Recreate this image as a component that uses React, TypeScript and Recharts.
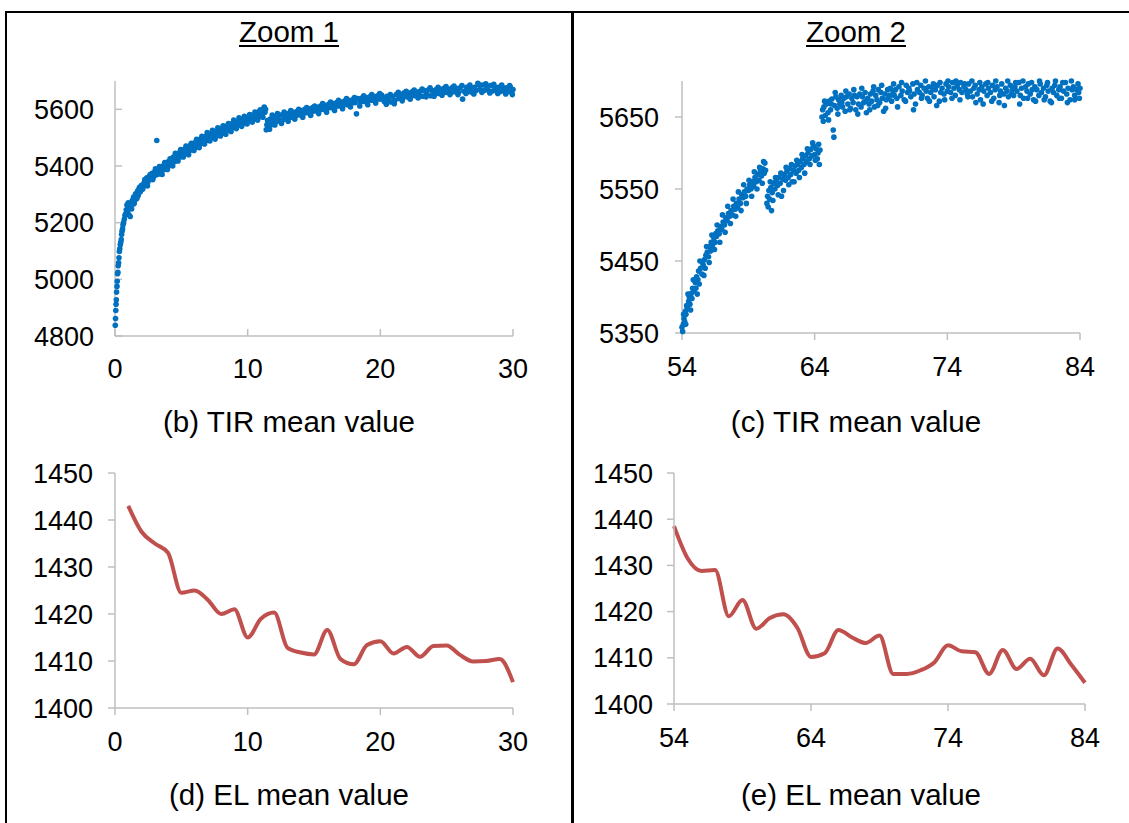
import React from 'react';
import { ScatterChart, Scatter, LineChart, Line, XAxis, YAxis } from 'recharts';

// TIR mean value, zoom 1 (x, value)
const tirZoom1: [number, number][] = [
  [0.02, 4838], [0.04, 4862], [0.06, 4890], [0.08, 4912], [0.1, 4928], [0.12, 4955], [0.15, 4975],
  [0.17, 4993], [0.19, 5020], [0.22, 5025], [0.24, 5048], [0.27, 5058], [0.3, 5076], [0.33, 5098],
  [0.36, 5108], [0.4, 5122], [0.43, 5130], [0.47, 5140], [0.5, 5158], [0.53, 5170], [0.57, 5178],
  [0.6, 5192], [0.65, 5200], [0.7, 5212], [0.75, 5225], [0.8, 5230], [0.85, 5245], [0.9, 5262],
  [0.95, 5238], [1.0, 5270], [1.05, 5228], [1.1, 5255], [1.15, 5222], [1.2, 5262], [1.25, 5248],
  [1.3, 5278], [1.35, 5265], [1.4, 5290], [1.5, 5280], [1.55, 5302], [1.6, 5290], [1.7, 5312],
  [1.75, 5296], [1.8, 5318], [1.9, 5308], [2.0, 5332], [2.1, 5320], [2.2, 5342], [2.3, 5332],
  [2.4, 5358], [2.5, 5345], [2.6, 5364], [2.7, 5354], [2.8, 5374], [2.9, 5362], [3.0, 5380],
  [3.1, 5368], [3.15, 5490], [3.2, 5384], [3.3, 5372], [3.4, 5392], [3.5, 5380], [3.6, 5400],
  [3.7, 5388], [3.8, 5408], [3.9, 5394], [4.0, 5415], [4.1, 5402], [4.2, 5424], [4.3, 5410],
  [4.4, 5432], [4.5, 5416], [4.6, 5440], [4.7, 5426], [4.8, 5446], [4.9, 5432], [5.0, 5452],
  [5.1, 5438], [5.2, 5458], [5.3, 5444], [5.4, 5464], [5.5, 5450], [5.6, 5470], [5.7, 5456],
  [5.8, 5476], [5.9, 5462], [6.0, 5482], [6.1, 5466], [6.2, 5488], [6.3, 5474], [6.4, 5494],
  [6.5, 5480], [6.6, 5498], [6.7, 5484], [6.8, 5504], [6.9, 5490], [7.0, 5510], [7.1, 5494],
  [7.2, 5514], [7.3, 5500], [7.4, 5518], [7.5, 5504], [7.6, 5522], [7.7, 5508], [7.8, 5526],
  [7.9, 5512], [8.0, 5532], [8.1, 5516], [8.2, 5534], [8.3, 5520], [8.4, 5540], [8.5, 5526],
  [8.6, 5544], [8.7, 5530], [8.8, 5549], [8.9, 5536], [9.0, 5554], [9.1, 5540], [9.2, 5558],
  [9.3, 5544], [9.4, 5562], [9.5, 5548], [9.6, 5566], [9.7, 5552], [9.8, 5568], [9.9, 5556],
  [10.0, 5572], [10.1, 5558], [10.2, 5576], [10.3, 5562], [10.4, 5580], [10.5, 5566], [10.6, 5584],
  [10.7, 5570], [10.8, 5590], [10.9, 5574], [11.0, 5594], [11.1, 5580], [11.2, 5602], [11.25, 5608],
  [11.3, 5590], [11.4, 5528], [11.45, 5545], [11.5, 5560], [11.55, 5536], [11.6, 5552], [11.7, 5566],
  [11.8, 5546], [11.9, 5570], [12.0, 5554], [12.1, 5574], [12.2, 5558], [12.3, 5576], [12.4, 5560],
  [12.5, 5580], [12.7, 5564], [12.8, 5582], [13.0, 5568], [13.1, 5586], [13.3, 5572], [13.4, 5590],
  [13.6, 5576], [13.7, 5592], [13.9, 5580], [14.0, 5596], [14.2, 5584], [14.3, 5600], [14.5, 5588],
  [14.6, 5602], [14.8, 5590], [14.9, 5606], [15.1, 5594], [15.2, 5608], [15.4, 5596], [15.5, 5612],
  [15.7, 5600], [15.8, 5614], [16.0, 5603], [16.1, 5618], [16.3, 5606], [16.4, 5620], [16.6, 5608],
  [16.7, 5624], [16.9, 5612], [17.0, 5626], [17.2, 5614], [17.3, 5629], [17.5, 5616], [17.6, 5632],
  [17.8, 5620], [17.9, 5634], [18.1, 5623], [18.2, 5584], [18.3, 5638], [18.5, 5626], [18.6, 5640],
  [18.8, 5628], [18.9, 5642], [19.1, 5630], [19.2, 5644], [19.4, 5632], [19.5, 5646], [19.7, 5634],
  [19.8, 5648], [20.0, 5636], [20.1, 5650], [20.3, 5628], [20.5, 5646], [20.6, 5634], [20.8, 5626],
  [20.9, 5645], [21.1, 5632], [21.2, 5652], [21.4, 5638], [21.5, 5654], [21.7, 5642], [21.8, 5658],
  [22.0, 5644], [22.1, 5658], [22.3, 5646], [22.4, 5662], [22.6, 5648], [22.7, 5662], [22.9, 5650],
  [23.0, 5664], [23.2, 5646], [23.3, 5666], [23.5, 5652], [23.6, 5668], [23.8, 5648], [23.9, 5666],
  [24.1, 5654], [24.2, 5670], [24.4, 5656], [24.5, 5672], [24.7, 5658], [24.8, 5674], [25.0, 5660],
  [25.1, 5672], [25.3, 5658], [25.4, 5676], [25.6, 5662], [25.7, 5674], [25.9, 5660], [26.0, 5676],
  [26.2, 5636], [26.3, 5664], [26.5, 5678], [26.6, 5662], [26.8, 5676], [26.9, 5660], [27.1, 5678],
  [27.2, 5666], [27.4, 5688], [27.5, 5670], [27.7, 5686], [27.8, 5666], [28.0, 5682], [28.1, 5668],
  [28.3, 5684], [28.4, 5664], [28.6, 5680], [28.7, 5666], [28.9, 5678], [29.0, 5662], [29.2, 5678],
  [29.3, 5664], [29.5, 5676], [29.6, 5662], [29.8, 5678], [29.9, 5660], [30.0, 5670],
];

// extra points on the upper and lower edges of the zoom 1 band
const tirZoom1Edge: [number, number][] = [
  [1.45, 5268], [1.65, 5285], [1.85, 5325], [2.05, 5318], [2.25, 5352], [2.45, 5330], [2.65, 5370],
  [2.85, 5352], [3.05, 5390], [3.35, 5398], [3.55, 5370], [3.75, 5412], [3.95, 5388], [4.15, 5425],
  [4.35, 5400], [4.55, 5445], [4.75, 5418], [4.95, 5458], [5.15, 5432], [5.35, 5470], [5.55, 5440],
  [5.75, 5480], [5.95, 5455], [6.15, 5494], [6.35, 5465], [6.55, 5505], [6.75, 5478], [6.95, 5518],
  [7.15, 5488], [7.35, 5526], [7.55, 5495], [7.75, 5535], [7.95, 5506], [8.15, 5542], [8.35, 5512],
  [8.55, 5550], [8.75, 5522], [8.95, 5562], [9.15, 5532], [9.35, 5570], [9.55, 5540], [9.75, 5575],
  [9.95, 5548], [10.15, 5582], [10.35, 5555], [10.55, 5590], [10.75, 5562], [10.95, 5598], [11.15, 5572],
  [11.35, 5600], [11.65, 5530], [11.85, 5580], [12.05, 5545], [12.25, 5585], [12.55, 5550], [12.75, 5590],
  [13.05, 5558], [13.25, 5596], [13.55, 5565], [13.85, 5600], [14.15, 5572], [14.45, 5606], [14.75, 5578],
  [15.05, 5612], [15.35, 5585], [15.65, 5620], [15.95, 5590], [16.25, 5626], [16.55, 5596], [16.85, 5632],
  [17.15, 5602], [17.45, 5638], [17.75, 5608], [18.05, 5642], [18.45, 5612], [18.75, 5648], [19.05, 5616],
  [19.35, 5652], [19.65, 5622], [19.95, 5656], [20.25, 5640], [20.45, 5618], [20.75, 5652], [21.05, 5620],
  [21.35, 5660], [21.65, 5630], [21.95, 5664], [22.25, 5636], [22.55, 5668], [22.85, 5640], [23.15, 5672],
  [23.45, 5644], [23.75, 5676], [24.05, 5646], [24.35, 5678], [24.65, 5650], [24.95, 5680], [25.25, 5652],
  [25.55, 5682], [25.85, 5652], [26.15, 5684], [26.45, 5656], [26.75, 5686], [27.05, 5654], [27.35, 5692],
  [27.65, 5660], [27.95, 5690], [28.25, 5658], [28.55, 5688], [28.85, 5656], [29.15, 5686], [29.45, 5654],
  [29.75, 5684], [29.95, 5652],
];

// TIR mean value, zoom 2 (x, value)
const tirZoom2: [number, number][] = [
  [54.0, 5358], [54.05, 5352], [54.1, 5362], [54.15, 5370], [54.2, 5366], [54.25, 5380], [54.3, 5376],
  [54.35, 5388], [54.4, 5384], [54.5, 5394], [54.55, 5400], [54.6, 5390], [54.7, 5405], [54.75, 5398],
  [54.8, 5412], [54.9, 5408], [55.0, 5420], [55.05, 5412], [55.1, 5428], [55.2, 5424], [55.25, 5436],
  [55.3, 5418], [55.4, 5440], [55.5, 5432], [55.55, 5448], [55.6, 5444], [55.7, 5452], [55.75, 5440],
  [55.8, 5458], [55.9, 5462], [56.0, 5456], [56.1, 5470], [56.15, 5464], [56.2, 5476], [56.3, 5472],
  [56.4, 5482], [56.5, 5476], [56.55, 5488], [56.6, 5484], [56.7, 5492], [56.8, 5488], [56.9, 5498],
  [57.0, 5494], [57.1, 5504], [57.2, 5500], [57.3, 5510], [57.4, 5506], [57.5, 5516], [57.6, 5512],
  [57.7, 5520], [57.8, 5514], [57.9, 5526], [58.0, 5522], [58.1, 5530], [58.2, 5524], [58.3, 5536],
  [58.4, 5530], [58.5, 5542], [58.6, 5538], [58.7, 5546], [58.8, 5540], [58.9, 5550], [59.0, 5548],
  [59.1, 5556], [59.2, 5550], [59.3, 5560], [59.4, 5554], [59.5, 5566], [59.6, 5560], [59.7, 5570],
  [59.8, 5562], [59.9, 5574], [60.0, 5568], [60.1, 5578], [60.2, 5572], [60.25, 5586], [60.3, 5576],
  [60.4, 5530], [60.45, 5540], [60.5, 5525], [60.55, 5548], [60.6, 5536], [60.7, 5552], [60.75, 5520],
  [60.8, 5545], [60.9, 5558], [61.0, 5550], [61.1, 5562], [61.2, 5555], [61.3, 5566], [61.4, 5558],
  [61.5, 5540], [61.6, 5564], [61.7, 5570], [61.8, 5562], [61.9, 5574], [62.0, 5566], [62.1, 5578],
  [62.2, 5570], [62.3, 5560], [62.4, 5576], [62.5, 5582], [62.6, 5572], [62.7, 5584], [62.8, 5576],
  [62.9, 5588], [63.0, 5580], [63.1, 5592], [63.2, 5584], [63.3, 5596], [63.4, 5588], [63.5, 5600],
  [63.6, 5592], [63.7, 5605], [63.8, 5596], [63.9, 5610], [64.0, 5598], [64.1, 5606], [64.2, 5592],
  [64.3, 5612], [64.4, 5604], [64.55, 5650], [64.6, 5660], [64.65, 5644], [64.7, 5664], [64.8, 5652],
  [64.9, 5668], [65.0, 5656], [65.1, 5672], [65.2, 5660], [65.3, 5675], [65.4, 5632], [65.45, 5622],
  [65.5, 5666], [65.6, 5678], [65.7, 5662], [65.8, 5674], [65.9, 5668], [66.0, 5680], [66.1, 5664],
  [66.2, 5676], [66.3, 5658], [66.4, 5678], [66.5, 5668], [66.6, 5682], [66.7, 5662], [66.8, 5676],
  [66.9, 5670], [67.0, 5680], [67.1, 5660], [67.2, 5678], [67.3, 5668], [67.4, 5682], [67.5, 5664],
  [67.6, 5678], [67.7, 5670], [67.8, 5684], [67.9, 5656], [68.0, 5676], [68.1, 5668], [68.2, 5682],
  [68.3, 5672], [68.4, 5686], [68.5, 5664], [68.6, 5680], [68.7, 5674], [68.8, 5688], [68.9, 5670],
  [69.0, 5684], [69.1, 5676], [69.2, 5658], [69.3, 5682], [69.4, 5674], [69.5, 5688], [69.6, 5678],
  [69.7, 5690], [69.8, 5672], [69.9, 5686], [70.0, 5680], [70.1, 5688], [70.2, 5676], [70.35, 5692],
  [70.5, 5680], [70.6, 5686], [70.75, 5674], [70.9, 5694], [71.0, 5684], [71.1, 5690], [71.25, 5678],
  [71.4, 5696], [71.5, 5682], [71.6, 5668], [71.75, 5688], [71.9, 5684], [72.0, 5694], [72.1, 5680],
  [72.25, 5690], [72.4, 5686], [72.5, 5676], [72.6, 5692], [72.75, 5684], [72.9, 5690], [73.0, 5678],
  [73.1, 5688], [73.25, 5694], [73.4, 5672], [73.5, 5684], [73.6, 5690], [73.75, 5682], [73.9, 5696],
  [74.0, 5686], [74.1, 5692], [74.25, 5684], [74.4, 5698], [74.5, 5690], [74.6, 5680], [74.75, 5694],
  [74.9, 5688], [75.0, 5698], [75.1, 5684], [75.25, 5692], [75.4, 5688], [75.5, 5682], [75.6, 5696],
  [75.75, 5686], [75.9, 5678], [76.0, 5690], [76.1, 5694], [76.25, 5682], [76.4, 5688], [76.5, 5674],
  [76.6, 5692], [76.75, 5686], [76.9, 5696], [77.0, 5680], [77.1, 5690], [77.25, 5684], [77.4, 5694],
  [77.5, 5676], [77.6, 5688], [77.75, 5692], [77.9, 5670], [78.0, 5686], [78.1, 5696], [78.25, 5682],
  [78.4, 5690], [78.5, 5686], [78.6, 5678], [78.75, 5694], [78.9, 5688], [79.0, 5680], [79.1, 5692],
  [79.25, 5686], [79.4, 5698], [79.5, 5680], [79.6, 5690], [79.75, 5676], [79.9, 5692], [80.0, 5686],
  [80.1, 5696], [80.25, 5682], [80.4, 5688], [80.5, 5674], [80.6, 5692], [80.75, 5688], [80.9, 5680],
  [81.0, 5696], [81.1, 5684], [81.25, 5690], [81.4, 5678], [81.5, 5694], [81.6, 5686], [81.75, 5672],
  [81.9, 5690], [82.0, 5684], [82.1, 5694], [82.25, 5680], [82.4, 5688], [82.5, 5692], [82.6, 5676],
  [82.75, 5686], [82.9, 5698], [83.0, 5682], [83.1, 5690], [83.25, 5674], [83.4, 5688], [83.5, 5692],
  [83.6, 5680], [83.75, 5688], [83.9, 5684], [84.0, 5690],
];

// extra points on the edges of the zoom 2 band
const tirZoom2Edge: [number, number][] = [
  [54.12, 5376], [54.28, 5362], [54.45, 5404], [54.65, 5382], [54.85, 5424], [55.15, 5404], [55.35, 5450],
  [55.65, 5430], [55.85, 5470], [56.05, 5448], [56.25, 5486], [56.45, 5466], [56.65, 5500], [56.85, 5476],
  [57.05, 5514], [57.25, 5490], [57.45, 5526], [57.65, 5502], [57.85, 5536], [58.05, 5512], [58.25, 5546],
  [58.45, 5520], [58.65, 5556], [58.85, 5530], [59.05, 5562], [59.25, 5540], [59.45, 5574], [59.65, 5550],
  [59.85, 5580], [60.05, 5558], [60.15, 5588], [60.65, 5560], [60.85, 5534], [61.05, 5566], [61.25, 5542],
  [61.45, 5572], [61.65, 5548], [61.85, 5580], [62.05, 5556], [62.25, 5584], [62.45, 5560], [62.65, 5590],
  [62.85, 5566], [63.05, 5598], [63.25, 5572], [63.45, 5606], [63.65, 5584], [63.85, 5614], [64.05, 5590],
  [64.25, 5600], [64.35, 5584], [64.75, 5672], [65.05, 5646], [65.25, 5668], [65.55, 5684], [65.75, 5654],
  [66.05, 5670], [66.35, 5686], [66.65, 5660], [66.95, 5688], [67.25, 5654], [67.55, 5690], [67.85, 5672],
  [68.15, 5660], [68.45, 5692], [68.75, 5666], [69.05, 5694], [69.35, 5662], [69.65, 5680], [69.95, 5696],
  [70.25, 5664], [70.55, 5698], [70.85, 5672], [71.15, 5686], [71.45, 5660], [71.7, 5698], [72.05, 5676],
  [72.35, 5700], [72.65, 5672], [72.95, 5696], [73.2, 5666], [73.45, 5698], [73.8, 5674], [74.05, 5700],
  [74.35, 5676], [74.65, 5700], [74.95, 5674], [75.3, 5696], [75.55, 5678], [75.85, 5700], [76.15, 5670],
  [76.45, 5698], [76.7, 5668], [77.05, 5698], [77.35, 5672], [77.65, 5700], [77.95, 5680], [78.3, 5666],
  [78.55, 5700], [78.85, 5682], [79.15, 5698], [79.45, 5668], [79.7, 5700], [80.05, 5676], [80.35, 5698],
  [80.65, 5672], [80.95, 5700], [81.3, 5674], [81.55, 5698], [81.85, 5670], [82.15, 5700], [82.45, 5676],
  [82.7, 5698], [83.05, 5670], [83.35, 5700], [83.6, 5674], [83.85, 5696], [83.95, 5676],
];

// EL mean value
const elZoom1X = [1, 2, 3, 4, 5, 6, 7, 8, 9, 10, 11, 12, 13, 14, 15, 16, 17, 18, 19, 20, 21, 22, 23, 24, 25, 26, 27, 28, 29, 30];
const elZoom1Y = [1443, 1437.5, 1435, 1433, 1424.5, 1425, 1423, 1420, 1421, 1415, 1419, 1420.3, 1412.8, 1411.8, 1411.4, 1416.6, 1410.4, 1409.3, 1413.4, 1414.2, 1411.6, 1413, 1410.9, 1413.2, 1413.3, 1411.3, 1409.9, 1410, 1410.4, 1405.5];
const elZoom2X = [54, 55, 56, 57, 58, 59, 60, 61, 62, 63, 64, 65, 66, 67, 68, 69, 70, 71, 72, 73, 74, 75, 76, 77, 78, 79, 80, 81, 82, 83, 84];
const elZoom2Y = [1438.5, 1431.5, 1428.8, 1429, 1419, 1422.5, 1416.3, 1418.6, 1419.4, 1416.5, 1410.2, 1411, 1416, 1414.4, 1413.2, 1414.8, 1406.5, 1406.5, 1407.3, 1409, 1412.7, 1411.4, 1411.2, 1406.5, 1411.7, 1407.6, 1409.8, 1406.2, 1412, 1408.5, 1404.6];

const ticksZoom1X = [0, 10, 20, 30];
const ticksZoom2X = [54, 64, 74, 84];
const ticksTir1Y = [4800, 5000, 5200, 5400, 5600];
const ticksTir2Y = [5350, 5450, 5550, 5650];
const ticksElY = [1400, 1410, 1420, 1430, 1440, 1450];

const FONT = '"Liberation Sans", Arial, sans-serif';
const AXIS = '#BFBFBF';
const tickStyle = { fill: '#000', fontSize: 27, fontFamily: FONT };

const dot = (p: any) => <circle cx={p.cx} cy={p.cy} r={2.8} fill="#0070C0" />;

const toPoints = (arr: [number, number][]) => arr.map(([x, y]) => ({ x, y }));
const toLine = (xs: number[], ys: number[]) => xs.map((x, i) => ({ x, y: ys[i] }));

const axisProps = {
  axisLine: { stroke: AXIS, strokeWidth: 1.5 },
  tickLine: { stroke: AXIS, strokeWidth: 1.5 },
  tick: tickStyle,
  interval: 0 as const,
};

const Caption = ({ text, cx, cy }: { text: string; cx: number; cy: number }) => (
  <div style={{ position: 'absolute', left: cx - 200, top: cy - 18, width: 400, textAlign: 'center', fontSize: 29.5, fontFamily: FONT, lineHeight: '36px', color: '#000' }}>
    {text}
  </div>
);

const Title = ({ text, cx }: { text: string; cx: number }) => (
  <div style={{ position: 'absolute', left: cx - 150, top: 14, width: 300, textAlign: 'center', fontSize: 29.5, fontFamily: FONT, lineHeight: '36px', color: '#000' }}>
    <span style={{ textDecoration: 'underline', textDecorationThickness: 2, textUnderlineOffset: 3 }}>{text}</span>
  </div>
);

export default function App() {
  return (
    <div style={{ position: 'absolute', left: 0, top: 0, width: 1129, height: 823, background: '#fff', overflow: 'hidden' }}>
      {/* frame */}
      <div style={{ position: 'absolute', left: 5, top: 11, width: 1124, height: 2, background: '#000' }} />
      <div style={{ position: 'absolute', left: 5, top: 11, width: 2, height: 812, background: '#000' }} />
      <div style={{ position: 'absolute', left: 571, top: 11, width: 2.5, height: 812, background: '#000' }} />

      <Title text="Zoom 1" cx={289} />
      <Title text="Zoom 2" cx={856} />

      <div style={{ position: 'absolute', left: 0, top: 0 }}>
        <ScatterChart width={560} height={400} margin={{ top: 81, right: 47, left: 15, bottom: 24 }}>
          <XAxis type="number" dataKey="x" domain={[0, 30]} ticks={ticksZoom1X} height={40} tickSize={-7} tickMargin={30} {...axisProps} />
          <YAxis type="number" dataKey="y" domain={[4800, 5700]} ticks={ticksTir1Y} width={100} tickSize={-7} tickMargin={28} {...axisProps} />
          <Scatter data={toPoints(tirZoom1)} shape={dot} isAnimationActive={false} />
          <Scatter data={toPoints(tirZoom1Edge)} shape={dot} isAnimationActive={false} />
        </ScatterChart>
      </div>

      <div style={{ position: 'absolute', left: 572, top: 0 }}>
        <ScatterChart width={557} height={400} margin={{ top: 81, right: 49, left: 10, bottom: 27 }}>
          <XAxis type="number" dataKey="x" domain={[54, 84]} ticks={ticksZoom2X} height={40} tickSize={7} tickMargin={17} {...axisProps} />
          <YAxis type="number" dataKey="y" domain={[5350, 5700]} ticks={ticksTir2Y} width={100} tickSize={7} tickMargin={16} {...axisProps} />
          <Scatter data={toPoints(tirZoom2)} shape={dot} isAnimationActive={false} />
          <Scatter data={toPoints(tirZoom2Edge)} shape={dot} isAnimationActive={false} />
        </ScatterChart>
      </div>

      <div style={{ position: 'absolute', left: 0, top: 440 }}>
        <LineChart data={toLine(elZoom1X, elZoom1Y)} width={560} height={383} margin={{ top: 33, right: 47, left: 15, bottom: 75 }}>
          <XAxis type="number" dataKey="x" domain={[0, 30]} ticks={ticksZoom1X} height={40} tickSize={7} tickMargin={17} {...axisProps} />
          <YAxis type="number" domain={[1400, 1450]} ticks={ticksElY} width={100} tickSize={7} tickMargin={15} {...axisProps} />
          <Line type="monotone" dataKey="y" stroke="#C0504D" strokeWidth={4} dot={false} isAnimationActive={false} />
        </LineChart>
      </div>

      <div style={{ position: 'absolute', left: 572, top: 440 }}>
        <LineChart data={toLine(elZoom2X, elZoom2Y)} width={557} height={383} margin={{ top: 33, right: 44, left: 2, bottom: 79 }}>
          <XAxis type="number" dataKey="x" domain={[54, 84]} ticks={ticksZoom2X} height={40} tickSize={7} tickMargin={17} {...axisProps} />
          <YAxis type="number" domain={[1400, 1450]} ticks={ticksElY} width={100} tickSize={7} tickMargin={14} {...axisProps} />
          <Line type="monotone" dataKey="y" stroke="#C0504D" strokeWidth={4} dot={false} isAnimationActive={false} />
        </LineChart>
      </div>

      <Caption text="(b) TIR mean value" cx={289} cy={422} />
      <Caption text="(c) TIR mean value" cx={856} cy={422} />
      <Caption text="(d) EL mean value" cx={289} cy={795} />
      <Caption text="(e) EL mean value" cx={861} cy={795} />
    </div>
  );
}
